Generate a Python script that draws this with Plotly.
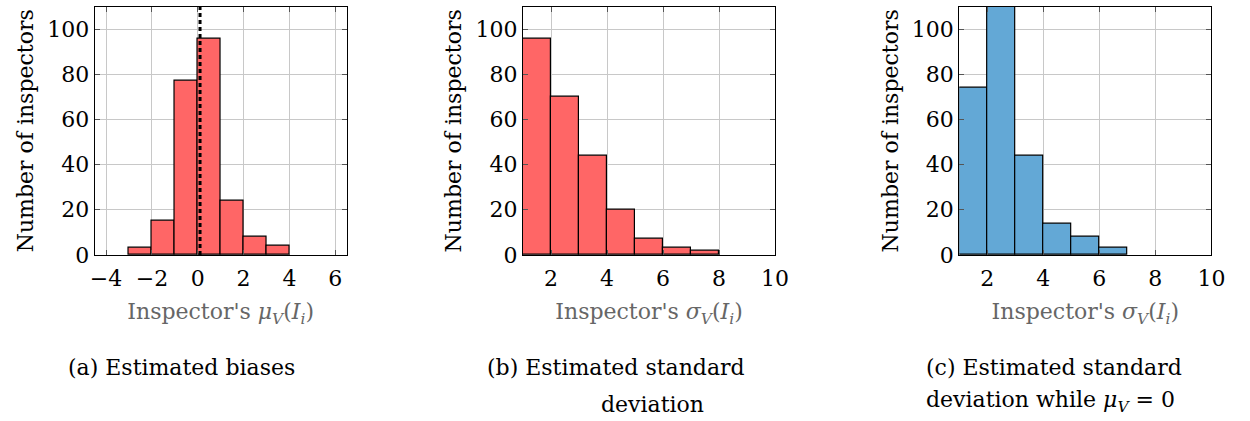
import plotly.graph_objects as go

# ---------------- data ----------------
bias_bin_left = [-3, -2, -1, 0, 1, 2, 3]
bias_counts = [3, 15, 77, 96, 24, 8, 4]
bias_mean = [0.1]

std_bin_left = [1, 2, 3, 4, 5, 6, 7]
std_counts = [96, 70, 44, 20, 7, 3, 2]

std0_bin_left = [1, 2, 3, 4, 5, 6]
std0_counts = [74, 115, 44, 14, 8, 3]

bin_width = 1.0

x_ticks_a = [-4, -2, 0, 2, 4, 6]
x_ticks_bc = [2, 4, 6, 8, 10]
y_ticks = [0, 20, 40, 60, 80, 100]

captions = [
    "(a) Estimated biases",
    "(b) Estimated standard",
    "deviation",
    "(c) Estimated standard",
    "deviation while <i>μ</i><sub><i>V</i></sub> = 0",
]

# ---------------- style ----------------
W, H = 1250, 421
FONT = "DejaVu Serif, serif"
FS = 22
RED = "rgb(255,102,102)"
BLUE = "rgb(99,168,214)"
GRID = "rgb(200,200,200)"

panels = [
    (91, 347, [-4.5, 6.5], x_ticks_a, bias_bin_left, bias_counts, RED,
     "Inspector's <i>μ</i><sub><i>V</i></sub>(<i>I</i><sub><i>i</i></sub>)"),
    (526, 782, [1, 10], x_ticks_bc, std_bin_left, std_counts, RED,
     "Inspector's <i>σ</i><sub><i>V</i></sub>(<i>I</i><sub><i>i</i></sub>)"),
    (969, 1225, [1, 10], x_ticks_bc, std0_bin_left, std0_counts, BLUE,
     "Inspector's <i>σ</i><sub><i>V</i></sub>(<i>I</i><sub><i>i</i></sub>)"),
]
TOP, BOTTOM = 7, 263

fig = go.Figure()
layout = dict(
    width=W, height=H, margin=dict(l=0, r=0, t=0, b=0),
    paper_bgcolor="white", plot_bgcolor="white",
    showlegend=False, bargap=0,
    font=dict(family=FONT, size=FS, color="black"),
)

for i, (x0, x1, xr, xt, lefts, counts, col, xtitle) in enumerate(panels):
    n = "" if i == 0 else str(i + 1)
    centers = [l + bin_width / 2 for l in lefts]
    fig.add_trace(go.Bar(
        x=centers, y=counts, width=[bin_width] * len(counts),
        marker=dict(color=col, line=dict(color="black", width=1.2)),
        xaxis="x" + n, yaxis="y" + n, hoverinfo="skip",
    ))
    ax = dict(
        domain=[x0 / W, x1 / W], range=xr, tickvals=xt,
        ticktext=[("−" + str(-v)) if v < 0 else str(v) for v in xt],
        showgrid=True, gridcolor=GRID, gridwidth=1, zeroline=False,
        showline=True, linecolor="black", linewidth=1, mirror="allticks",
        ticks="inside", ticklen=5, tickcolor="#555", ticklabelstandoff=4,
        tickfont=dict(family=FONT, size=FS, color="black"),
        title=dict(text=xtitle, font=dict(family=FONT, size=FS, color="#666"), standoff=13),
        anchor="y" + n,
    )
    ay = dict(
        domain=[(H - BOTTOM) / H, (H - TOP) / H], range=[0, 110], tickvals=y_ticks,
        showgrid=True, gridcolor=GRID, gridwidth=1, zeroline=False,
        showline=True, linecolor="black", linewidth=1, mirror="allticks",
        ticks="inside", ticklen=5, tickcolor="#555",
        tickfont=dict(family=FONT, size=FS, color="black"),
        title=dict(text="Number of inspectors", font=dict(family=FONT, size=FS, color="black"), standoff=7),
        anchor="x" + n,
    )
    layout["xaxis" + n] = ax
    layout["yaxis" + n] = ay

# dashed mean line in panel (a)
fig.add_trace(go.Scatter(
    x=[bias_mean[0], bias_mean[0]], y=[0, 110], mode="lines",
    line=dict(color="black", width=3, dash="4px,3px"),
    xaxis="x", yaxis="y", hoverinfo="skip",
))

fig.update_layout(**layout)

cap_pos = [(62, 379, "left"), (487, 379, "left"), (657, 417, "center"),
           (933, 379, "left"), (933, 414, "left")]
for (px, py, al), txt in zip(cap_pos, captions):
    fig.add_annotation(
        x=px / W, y=(H - py) / H, xref="paper", yref="paper",
        text=txt, showarrow=False, xanchor=al, yanchor="middle",
        font=dict(size=FS, color="black", family=FONT),
    )

fig.write_html("out.html")
